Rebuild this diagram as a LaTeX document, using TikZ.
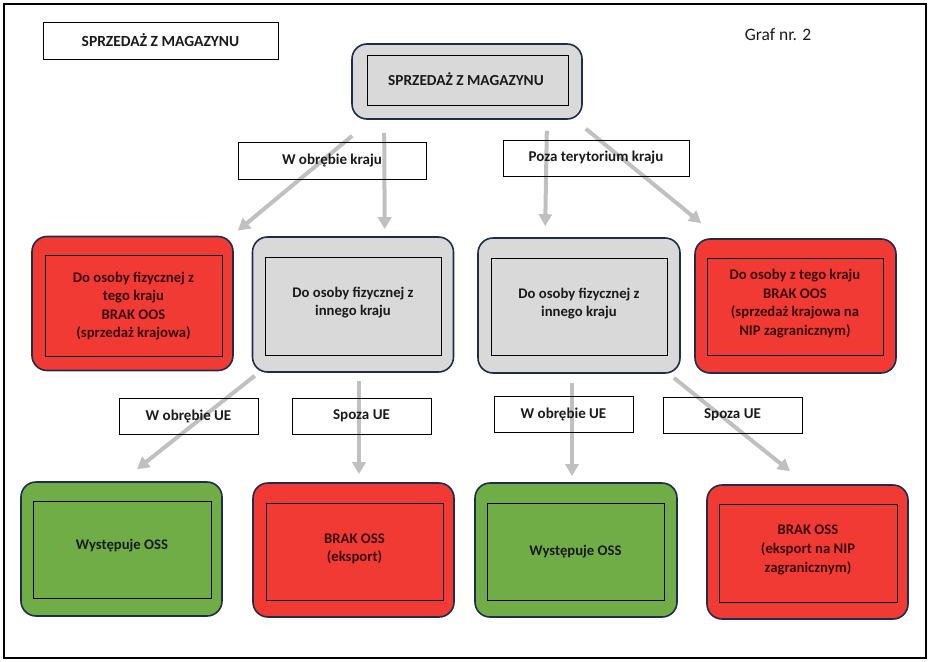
\documentclass[tikz,border=0pt]{standalone}
\usepackage{fontspec}
\setmainfont{Carlito}
\usetikzlibrary{arrows.meta}
\definecolor{boxred}{HTML}{F03A33}
\definecolor{boxgreen}{HTML}{70AD47}
\definecolor{boxgray}{HTML}{D9D9D9}
\definecolor{navy}{HTML}{1F2D4A}
\definecolor{arrgray}{HTML}{C0C0C0}
\definecolor{redtext}{HTML}{3A0A0A}
\definecolor{darktext}{HTML}{1A1A1A}
\begin{document}
\begin{tikzpicture}[x=1pt,y=-1pt,
  outer/.style={draw=navy, line width=1.6pt, rounded corners=15pt, minimum width=201pt, minimum height=134pt, inner sep=0pt},
  inner/.style={draw=black, line width=0.9pt, minimum width=177pt, minimum height=97pt, inner sep=0pt},
  txt/.style={align=center, inner sep=0pt, font=\fontsize{14.7}{18.6}\selectfont\bfseries},
  redouter/.style={outer, fill=boxred},
  grayouter/.style={outer, fill=boxgray},
  greenouter/.style={outer, fill=boxgreen},
  redtxt/.style={txt, text=redtext},
  graytxt/.style={txt, text=darktext},
  lbl/.style={draw=black, line width=0.8pt, minimum width=139pt, minimum height=36pt, inner sep=0pt,
     font=\fontsize{15}{18}\selectfont\bfseries, text=darktext},
  arr/.style={draw=arrgray, line width=4pt, -{Triangle[width=13pt,length=12pt]}}
]
\useasboundingbox (0,0) rectangle (933,661);
\draw[line width=2pt, black] (4,4) rectangle (926,658);

% title and caption
\node[lbl, minimum width=235pt, minimum height=37pt, font=\fontsize{15.5}{18}\selectfont\bfseries] (title) at (160.5,40.5) {SPRZEDAŻ Z MAGAZYNU};
\node[font=\fontsize{17.5}{20}\selectfont, text=darktext] (graf) at (778,35) {Graf nr. 2};

% root
\node[grayouter, minimum width=230pt, minimum height=75pt] (root) at (467,81.5) {};
\node[inner, minimum width=201pt, minimum height=50pt] (rootin) at (467.5,80) {};
\node[graytxt, font=\fontsize{15.3}{18}\selectfont\bfseries] (roott) at (466,79) {SPRZEDAŻ Z MAGAZYNU};

% middle row
\node[redouter] (b1) at (132.5,303.5) {};
\node[inner, minimum height=101pt] (b1in) at (133.5,305.5) {};
\node[redtxt] (b1t) at (133.5,306) {Do osoby fizycznej z\\tego kraju\\BRAK OOS\\(sprzedaż krajowa)};
\node[grayouter, minimum height=135pt] (b2) at (353,304.5) {};
\node[inner, minimum width=176pt, minimum height=98pt] (b2in) at (353,306) {};
\node[graytxt] (b2t) at (353,302.5) {Do osoby fizycznej z\\innego kraju};
\node[grayouter, minimum height=135pt, minimum width=202pt] (b3) at (579,305.5) {};
\node[inner, minimum width=176pt] (b3in) at (579,306.5) {};
\node[graytxt] (b3t) at (579,303.5) {Do osoby fizycznej z\\innego kraju};
\node[redouter] (b4) at (795.5,306) {};
\node[inner, minimum width=176pt] (b4in) at (795,306.5) {};
\node[redtxt] (b4t) at (795,303.5) {Do osoby z tego kraju\\BRAK OOS\\(sprzedaż krajowa na\\NIP zagranicznym)};

% bottom row
\node[greenouter] (d1) at (121.5,549) {};
\node[inner, minimum width=178pt] (d1in) at (122,549.5) {};
\node[graytxt] (d1t) at (122,546) {Występuje OSS};
\node[redouter] (d2) at (353.5,550) {};
\node[inner] (d2in) at (354.5,551.5) {};
\node[redtxt] (d2t) at (354.5,549) {BRAK OSS\\(eksport)};
\node[greenouter, minimum width=202pt] (d3) at (576,550) {};
\node[inner] (d3in) at (575.5,551.5) {};
\node[graytxt] (d3t) at (575.5,552) {Występuje OSS};
\node[redouter] (d4) at (807.5,552) {};
\node[inner, minimum width=178pt, minimum height=98pt] (d4in) at (808,553) {};
\node[redtxt] (d4t) at (808,550) {BRAK OSS\\(eksport na NIP\\zagranicznym)};

% arrows
\draw[arr] ([xshift=1pt,yshift=-16pt]root.south west) -- ([xshift=4pt,yshift=5pt]b1.north east);
\draw[arr] ([xshift=33pt,yshift=-13pt]root.south west) -- ([xshift=133pt,yshift=7pt]b2.north west);
\draw[arr] ([xshift=-36pt,yshift=-11pt]root.south east) -- ([xshift=68pt,yshift=11pt]b3.north west);
\draw[arr] ([xshift=3pt,yshift=-9pt]root.south east) -- ([xshift=7pt,yshift=15pt]b4.north west);
\draw[arr] ([xshift=3pt,yshift=-3pt]b2.south west) -- ([xshift=15.5pt,yshift=12pt]d1.north);
\draw[arr] ([xshift=6pt,yshift=-8pt]b2.south) -- ([xshift=5.5pt,yshift=8pt]d2.north);
\draw[arr] ([xshift=-7pt,yshift=-9pt]b3.south) -- ([xshift=-4pt,yshift=6pt]d3.north);
\draw[arr] ([xshift=-7pt,yshift=-4pt]b3.south east) -- ([xshift=-17.5pt,yshift=13pt]d4.north);

% branch labels
\node[lbl, minimum width=188pt, minimum height=37pt] (l1) at (332,160.5) {W obrębie kraju};
\node[lbl, minimum width=186pt] (l2) at (596,158) {Poza terytorium kraju};
\node[lbl] (l3) at (188.5,416) {W obrębie UE};
\node[lbl] (l4) at (361.5,416) {Spoza UE};
\node[lbl] (l5) at (563.5,414) {W obrębie UE};
\node[lbl] (l6) at (732.5,415) {Spoza UE};
\end{tikzpicture}
\end{document}
